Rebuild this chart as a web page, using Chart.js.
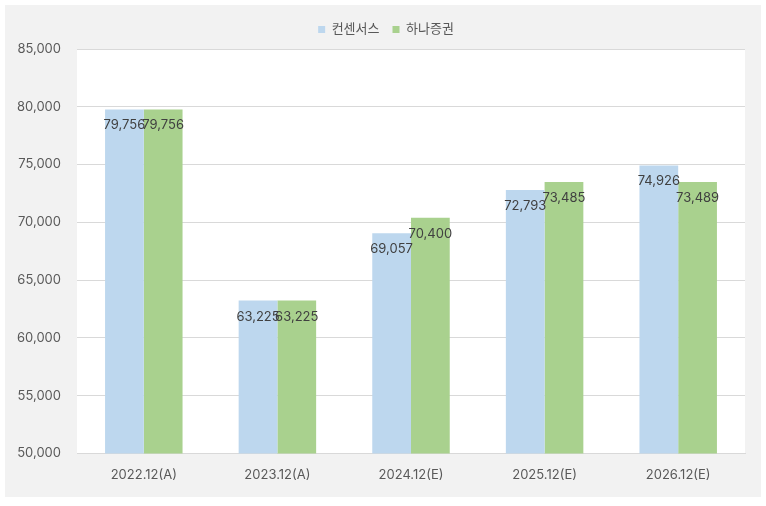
<!DOCTYPE html>
<html><head><meta charset="utf-8">
<script src="https://cdn.jsdelivr.net/npm/chart.js@4/dist/chart.umd.min.js"></script>
<style>html,body{margin:0;padding:0;background:#fff;}#wrap{width:766px;height:506px;position:relative;}</style>
</head><body><div id="wrap"><canvas id="c" width="766" height="506"></canvas></div>
<script>
const categories = ["2022.12(A)","2023.12(A)","2024.12(E)","2025.12(E)","2026.12(E)"];
const consensus = [79756, 63225, 69057, 72793, 74926];
const hana = [79756, 63225, 70400, 73485, 73489];
const seriesNames = ["컨센서스","하나증권"];
const yMin = 50000, yMax = 85000, yStep = 5000;

const FONT = "Inter,'Noto Sans CJK KR',sans-serif";

const bgPlugin = {
  id:'bg',
  afterLayout(chart){
    if (chart.legend){
      chart.legend.left += 12; chart.legend.right += 12;
      chart.legend.top -= 3; chart.legend.bottom -= 3;
    }
  },
  beforeDraw(chart){
    const ctx = chart.ctx, a = chart.chartArea;
    ctx.save();
    ctx.fillStyle = '#ffffff';
    ctx.fillRect(0,0,chart.width,chart.height);
    ctx.fillStyle = '#f2f2f2';
    ctx.fillRect(5,5,756,492);
    ctx.fillStyle = '#ffffff';
    ctx.fillRect(a.left,a.top,a.right-a.left,a.bottom-a.top);
    ctx.restore();
  }
};
const labelPlugin = {
  id:'lbl',
  afterDatasetsDraw(chart){
    const ctx = chart.ctx;
    ctx.save();
    ctx.font = "13px " + FONT;
    ctx.fillStyle = '#404040';
    ctx.textAlign = 'center';
    ctx.textBaseline = 'middle';
    chart.data.datasets.forEach((ds,i)=>{
      chart.getDatasetMeta(i).data.forEach((bar,j)=>{
        ctx.fillText(ds.data[j].toLocaleString('en-US'), bar.x, bar.y+16);
      });
    });
    ctx.restore();
  }
};

new Chart(document.getElementById('c'),{
  type:'bar',
  data:{labels:categories,datasets:[
    {label:seriesNames[0],data:consensus,backgroundColor:'#bdd7ee',categoryPercentage:0.58,barPercentage:1},
    {label:seriesNames[1],data:hana,backgroundColor:'#a9d18e',categoryPercentage:0.58,barPercentage:1}
  ]},
  options:{
    responsive:false,animation:false,
    layout:{padding:{left:3,right:21,top:13,bottom:17}},
    plugins:{
      legend:{position:'top',labels:{boxWidth:7,boxHeight:7,padding:13,color:'#595959',font:{family:FONT,size:13}}},
      tooltip:{enabled:false}
    },
    scales:{
      x:{grid:{display:false},border:{color:'#d9d9d9'},ticks:{color:'#595959',font:{family:FONT,size:13},padding:6}},
      y:{min:yMin,max:yMax,afterFit(s){s.width=74;},ticks:{stepSize:yStep,color:'#595959',font:{family:FONT,size:13},padding:16,callback:v=>v.toLocaleString('en-US')},
         grid:{color:'#d9d9d9',drawTicks:false},border:{display:false}}
    }
  },
  plugins:[bgPlugin,labelPlugin]
});
</script></body></html>
